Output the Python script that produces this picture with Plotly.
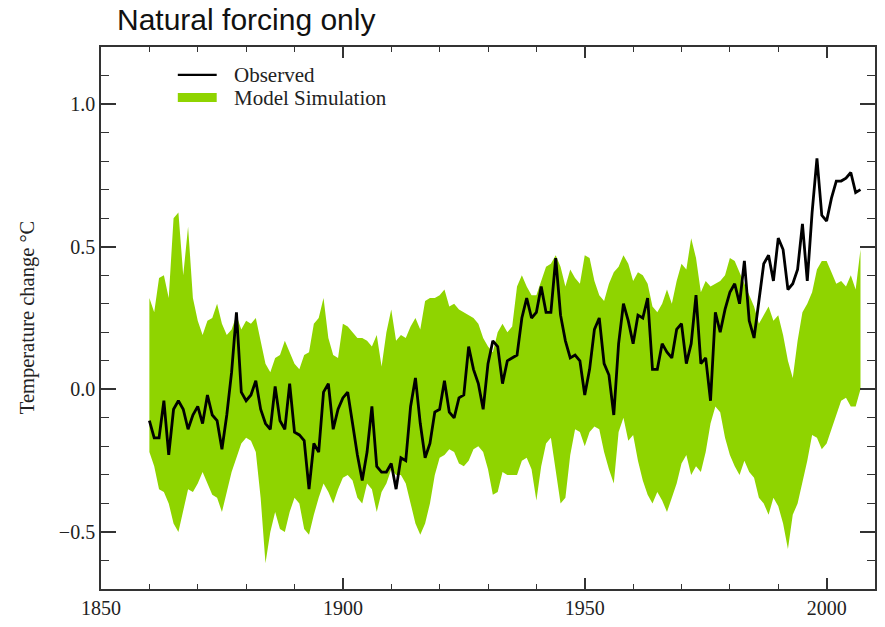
import plotly.graph_objects as go

# Annual global temperature anomalies (deg C), 1860-2007
years = list(range(1860, 2008))

observed = [
    -0.11, -0.17, -0.17, -0.04, -0.23, -0.07, -0.04, -0.07, -0.14, -0.09,   # 1860s
    -0.06, -0.12, -0.02, -0.09, -0.11, -0.21, -0.09, 0.06, 0.27, -0.01,     # 1870s
    -0.04, -0.02, 0.03, -0.07, -0.12, -0.14, 0.01, -0.11, -0.14, 0.02,      # 1880s
    -0.15, -0.16, -0.18, -0.35, -0.19, -0.22, -0.01, 0.02, -0.14, -0.07,    # 1890s
    -0.03, -0.01, -0.12, -0.23, -0.32, -0.22, -0.06, -0.27, -0.29, -0.29,   # 1900s
    -0.26, -0.35, -0.24, -0.25, -0.06, 0.04, -0.12, -0.24, -0.19, -0.08,    # 1910s
    -0.07, 0.03, -0.08, -0.10, -0.03, -0.02, 0.15, 0.07, 0.02, -0.07,       # 1920s
    0.09, 0.17, 0.15, 0.02, 0.10, 0.11, 0.12, 0.25, 0.32, 0.25,             # 1930s
    0.27, 0.36, 0.27, 0.27, 0.46, 0.26, 0.17, 0.11, 0.12, 0.10,             # 1940s
    -0.02, 0.07, 0.21, 0.25, 0.09, 0.05, -0.09, 0.16, 0.30, 0.24,           # 1950s
    0.16, 0.26, 0.25, 0.32, 0.07, 0.07, 0.16, 0.13, 0.11, 0.21,             # 1960s
    0.23, 0.09, 0.16, 0.33, 0.09, 0.11, -0.04, 0.27, 0.20, 0.28,            # 1970s
    0.34, 0.37, 0.30, 0.45, 0.24, 0.18, 0.31, 0.44, 0.47, 0.38,             # 1980s
    0.53, 0.49, 0.35, 0.37, 0.42, 0.58, 0.38, 0.62, 0.81, 0.61,             # 1990s
    0.59, 0.67, 0.73, 0.73, 0.74, 0.76, 0.69, 0.70,                         # 2000s
]

# Envelope of the natural-forcing model ensemble
model_upper = [
    0.32, 0.27, 0.39, 0.40, 0.32, 0.60, 0.62, 0.40, 0.57, 0.32,
    0.24, 0.19, 0.24, 0.25, 0.30, 0.23, 0.19, 0.21, 0.26, 0.21,
    0.24, 0.23, 0.25, 0.17, 0.09, 0.06, 0.11, 0.12, 0.17, 0.13,
    0.09, 0.07, 0.12, 0.13, 0.23, 0.25, 0.32, 0.18, 0.12, 0.11,
    0.23, 0.22, 0.20, 0.18, 0.18, 0.17, 0.15, 0.19, 0.08, 0.20,
    0.28, 0.17, 0.19, 0.18, 0.22, 0.25, 0.21, 0.31, 0.32, 0.32,
    0.33, 0.35, 0.29, 0.30, 0.28, 0.27, 0.26, 0.25, 0.23, 0.18,
    0.15, 0.13, 0.20, 0.23, 0.20, 0.22, 0.36, 0.40, 0.36, 0.33,
    0.33, 0.38, 0.43, 0.44, 0.47, 0.43, 0.36, 0.42, 0.39, 0.37,
    0.47, 0.46, 0.38, 0.33, 0.31, 0.37, 0.41, 0.43, 0.47, 0.44,
    0.38, 0.41, 0.40, 0.37, 0.29, 0.27, 0.30, 0.35, 0.30, 0.38,
    0.44, 0.42, 0.53, 0.46, 0.34, 0.38, 0.36, 0.37, 0.38, 0.40,
    0.46, 0.45, 0.41, 0.37, 0.33, 0.29, 0.23, 0.26, 0.29, 0.24,
    0.26, 0.19, 0.10, 0.04, 0.17, 0.27, 0.30, 0.34, 0.42, 0.45,
    0.45, 0.41, 0.37, 0.38, 0.36, 0.40, 0.35, 0.49,
]

model_lower = [
    -0.22, -0.27, -0.35, -0.36, -0.40, -0.47, -0.50, -0.42, -0.35, -0.36,
    -0.33, -0.29, -0.33, -0.37, -0.38, -0.43, -0.36, -0.29, -0.24, -0.19,
    -0.17, -0.18, -0.22, -0.38, -0.61, -0.50, -0.43, -0.49, -0.50, -0.43,
    -0.38, -0.40, -0.49, -0.51, -0.44, -0.38, -0.33, -0.36, -0.40, -0.35,
    -0.31, -0.30, -0.32, -0.38, -0.40, -0.33, -0.35, -0.43, -0.36, -0.33,
    -0.28, -0.30, -0.30, -0.33, -0.40, -0.47, -0.51, -0.47, -0.40, -0.30,
    -0.24, -0.23, -0.21, -0.22, -0.26, -0.27, -0.25, -0.21, -0.20, -0.22,
    -0.28, -0.37, -0.36, -0.29, -0.30, -0.30, -0.30, -0.25, -0.24, -0.28,
    -0.39, -0.27, -0.19, -0.17, -0.28, -0.40, -0.38, -0.23, -0.14, -0.15,
    -0.20, -0.15, -0.13, -0.14, -0.22, -0.28, -0.33, -0.15, -0.10, -0.18,
    -0.16, -0.25, -0.32, -0.37, -0.40, -0.36, -0.39, -0.43, -0.38, -0.33,
    -0.26, -0.23, -0.30, -0.27, -0.29, -0.22, -0.12, -0.06, -0.08, -0.17,
    -0.23, -0.27, -0.30, -0.25, -0.29, -0.31, -0.38, -0.40, -0.44, -0.38,
    -0.41, -0.47, -0.56, -0.44, -0.40, -0.33, -0.25, -0.16, -0.17, -0.21,
    -0.19, -0.14, -0.09, -0.04, -0.03, -0.06, -0.06, 0.00,
]

x_ticks = [1850, 1900, 1950, 2000]
y_ticks = [-0.5, 0.0, 0.5, 1.0]

GREEN = "#8fd400"
FRAME = "#333333"
SERIF = "Liberation Serif, Times New Roman, serif"

W, H = 885, 627
ML, MR, MT, MB = 101, 8, 47, 37
PW, PH = W - ML - MR, H - MT - MB


def px_x(p):
    return (p - ML) / PW


def px_y(p):
    return (H - MB - p) / PH


fig = go.Figure()

fig.add_trace(go.Scatter(
    x=years, y=model_lower, mode="lines", line=dict(width=0, color=GREEN),
    hoverinfo="skip", showlegend=False,
))
fig.add_trace(go.Scatter(
    x=years, y=model_upper, mode="lines", line=dict(width=0, color=GREEN),
    fill="tonexty", fillcolor=GREEN, name="Model Simulation", showlegend=False,
))
fig.add_trace(go.Scatter(
    x=years, y=observed, mode="lines", line=dict(width=2.8, color="black"),
    name="Observed", showlegend=False,
))

axis_common = dict(
    showgrid=False, zeroline=False, showline=True, linecolor=FRAME, linewidth=1.7,
    mirror="ticks", ticks="inside", tickcolor=FRAME, tickwidth=1.6,
    tickfont=dict(family=SERIF, size=20, color="#222"),
)

fig.update_xaxes(
    range=[1850, 2010], tickvals=x_ticks, ticklen=11,
    minor=dict(ticks="inside", ticklen=5, dtick=10, tick0=1850, tickcolor=FRAME, tickwidth=1.4),
    **axis_common,
)
fig.update_yaxes(
    range=[-0.7, 1.2], tickvals=y_ticks, tickformat=".1f", ticklen=15,
    minor=dict(ticks="inside", ticklen=8, dtick=0.1, tick0=0, tickcolor=FRAME, tickwidth=1.4),
    **axis_common,
)

# Legend drawn as a sample line / swatch with labels
shapes = [
    dict(type="line", xref="paper", yref="paper",
         x0=px_x(178), x1=px_x(217), y0=px_y(75), y1=px_y(75),
         line=dict(color="black", width=2.2)),
    dict(type="rect", xref="paper", yref="paper",
         x0=px_x(178), x1=px_x(217), y0=px_y(102), y1=px_y(93),
         fillcolor=GREEN, line=dict(width=0)),
]
annotations = [
    dict(text="Observed", x=px_x(232), y=px_y(75), xref="paper", yref="paper",
         xanchor="left", yanchor="middle", showarrow=False,
         font=dict(family=SERIF, size=21, color="#222")),
    dict(text="Model Simulation", x=px_x(232), y=px_y(98), xref="paper", yref="paper",
         xanchor="left", yanchor="middle", showarrow=False,
         font=dict(family=SERIF, size=21, color="#222")),
    dict(text="Temperature change °C", x=px_x(27), y=0.5, xref="paper", yref="paper",
         xanchor="center", yanchor="middle", textangle=-90, showarrow=False,
         font=dict(family=SERIF, size=20.5, color="#222")),
]

fig.update_layout(
    width=W, height=H,
    margin=dict(l=ML, r=MR, t=MT, b=MB),
    paper_bgcolor="white", plot_bgcolor="white",
    title=dict(text="Natural forcing only", x=117 / W, xanchor="left",
               y=1 - 19 / H, yanchor="middle",
               font=dict(family="Liberation Sans, Arial, sans-serif", size=30, color="#111")),
    shapes=shapes, annotations=annotations,
    showlegend=False,
)

fig.write_html("out.html")
